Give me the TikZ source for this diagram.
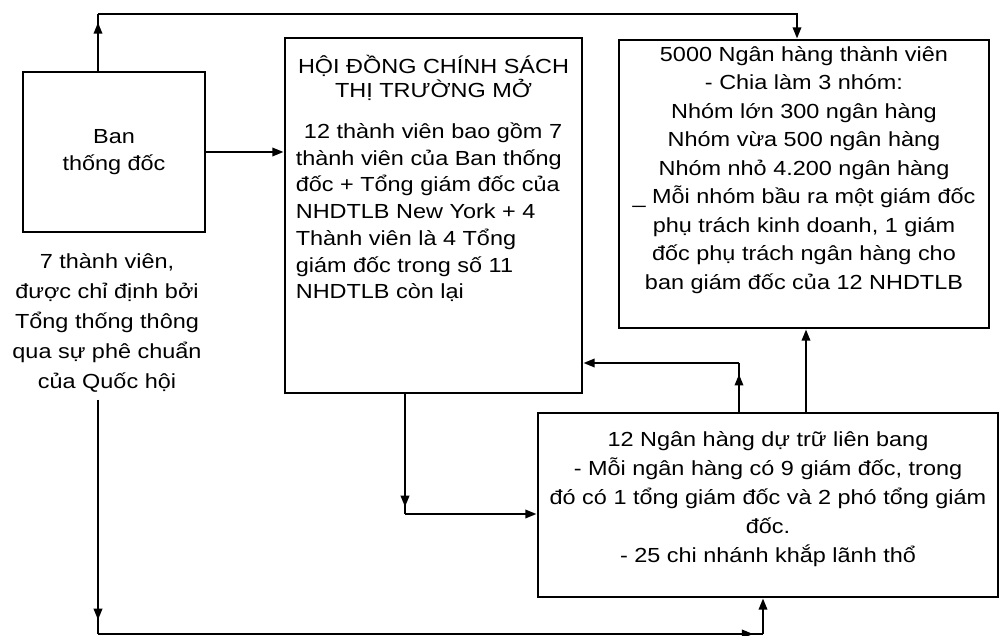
\documentclass[tikz,border=0pt]{standalone}
\usepackage{fontspec}
\setmainfont{Liberation Sans}[FakeStretch=1.15]
\usetikzlibrary{arrows.meta,positioning,calc,decorations.markings}

\begin{document}
\begin{tikzpicture}[
    x=0.025cm, y=-0.025cm,
    box/.style={draw, line width=2pt, inner sep=0pt},
    txt/.style={font=\fontsize{14.5}{20.5}\selectfont, align=center, inner sep=0pt},
    link/.style={line width=1.5pt},
    tip/.style={-{Triangle[length=8pt,width=6pt]}},
    tipnear/.style={postaction={decorate}, decoration={markings, mark=at position -#1 with {\arrow{Triangle[length=8pt,width=6pt]}}}}
]
    \useasboundingbox (0,0) rectangle (1001,636);

    % boxes
    \node[box, txt, font=\fontsize{14.5}{19}\selectfont, minimum width=4.55cm, minimum height=4cm] (ban) at (114,152) {Ban\\thống đốc};
    \node[box, minimum width=7.425cm, minimum height=8.875cm] (hd) at (433.5,215.5) {};
    \node[box, minimum width=9.25cm, minimum height=7.2cm] (nhtv) at (804,184) {};
    \node[box, minimum width=11.5cm, minimum height=4.6cm] (nhdt) at (768,505) {};

    % texts
    \node[txt, font=\fontsize{14.5}{16.5}\selectfont, below=0.47cm of hd.north] (hdtitle) {HỘI ĐỒNG CHÍNH SÁCH\\THỊ TRƯỜNG MỞ};
    \node[txt, align=left, anchor=north west, font=\fontsize{14.5}{19}\selectfont] (hdbody) at ($(hd.north west)+(12,86)$)
        {\hspace*{0.4em}12 thành viên bao gồm 7\\thành viên của Ban thống\\đốc + Tổng giám đốc của\\NHDTLB New York + 4\\Thành viên là 4 Tổng\\giám đốc trong số 11\\NHDTLB còn lại};
    \node[txt, font=\fontsize{14.5}{20.3}\selectfont, below=0.18cm of nhtv.north] (nhtvtext)
        {5000 Ngân hàng thành viên\\- Chia làm 3 nhóm:\\Nhóm lớn 300 ngân hàng\\Nhóm vừa 500 ngân hàng\\Nhóm nhỏ 4.200 ngân hàng\\\_ Mỗi nhóm bầu ra một giám đốc\\phụ trách kinh doanh, 1 giám\\đốc phụ trách ngân hàng cho\\ban giám đốc của 12 NHDTLB};
    \node[txt, font=\fontsize{14.5}{20.6}\selectfont, below=0.5cm of nhdt.north] (nhdttext)
        {12 Ngân hàng dự trữ liên bang\\- Mỗi ngân hàng có 9 giám đốc, trong\\đó có 1 tổng giám đốc và 2 phó tổng giám\\đốc.\\- 25 chi nhánh khắp lãnh thổ};
    \node[txt, font=\fontsize{14.5}{21.3}\selectfont, inner ysep=5pt] (tv) at (107,323)
        {7 thành viên,\\được chỉ định bởi\\Tổng thống thông\\qua sự phê chuẩn\\của Quốc hội};

    % corners
    \coordinate (tl) at (98,14);
    \coordinate (tr) at (797,14);
    \coordinate (dl) at (405,514);
    \coordinate (ul) at (739,363);
    \coordinate (ur) at (806,0);
    \coordinate (bl) at (98,634);
    \coordinate (br) at (763,634);

    % connectors
    \draw[link, tipnear=6pt] (tl |- ban.north) -- (tl);
    \draw[link, tip] (tl) -- (tr) -- (tr |- nhtv.north);
    \draw[link, tip] (ban.east) -- (ban.east -| hd.west);
    \draw[link, tipnear=5pt] (dl |- hd.south) -- (dl);
    \draw[link, tip] (dl) -- (dl -| nhdt.west);
    \draw[link, tipnear=8pt] (ul |- nhdt.north) -- (ul);
    \draw[link, tip] (ul) -- (ul -| hd.east);
    \draw[link, tip] (ur |- nhdt.north) -- (ur |- nhtv.south);
    \draw[link, tipnear=10pt] (bl |- tv.south) -- (bl);
    \draw[link, tipnear=7pt] (bl) -- (br);
    \draw[link, tip] (br) -- (br |- nhdt.south);
\end{tikzpicture}
\end{document}
